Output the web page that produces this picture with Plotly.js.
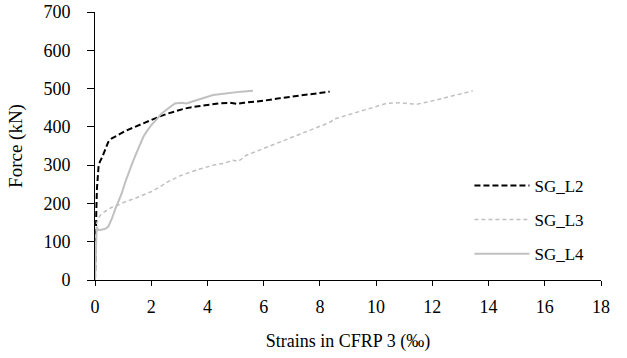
<!DOCTYPE html>
<html>
<head>
<meta charset="utf-8">
<script src="https://cdn.plot.ly/plotly-3.0.1.min.js"></script>
<style>html,body{margin:0;padding:0;background:#fff;}</style>
</head>
<body>
<div id="chart" style="width:627px;height:358px;"></div>
<script>
// SG_L2 (black dashed)
const l2X = [0, 0.01, 0.02, 0.03, 0.05, 0.07, 0.10, 0.13, 0.18, 0.25, 0.36, 0.47, 0.6, 0.83, 1.1, 1.42, 1.7, 2.01, 2.3, 2.6, 2.9, 3.2, 3.6, 4.0, 4.4, 4.8, 5.03, 5.3, 5.98, 6.5, 7.16, 7.7, 8.0, 8.35];
const l2Y = [0, 60, 120, 150, 190, 240, 280, 300, 310, 320, 340, 360, 370, 379, 390, 400, 409, 418, 427, 435, 442, 448, 453, 457, 461, 463, 460, 463, 468, 474, 480, 485, 488, 492];
// SG_L3 (light grey dashed)
const l3X = [0, 0.01, 0.03, 0.06, 0.15, 0.24, 0.4, 0.6, 0.83, 1.1, 1.42, 1.7, 2.01, 2.3, 2.6, 3.02, 3.6, 4.2, 4.6, 4.91, 5.1, 5.39, 6.0, 6.57, 7.2, 7.76, 8.3, 8.58, 9.18, 9.8, 10.36, 10.83, 11.1, 11.43, 11.9, 12.3, 12.73, 13.1, 13.44];
const l3Y = [0, 50, 110, 148, 165, 174, 182, 190, 196, 205, 213, 222, 231, 243, 257, 272, 287, 300, 305, 313, 310, 326, 344, 361, 378, 396, 410, 422, 435, 450, 461, 463, 462, 459, 466, 473, 480, 487, 494];
// SG_L4 (light grey solid)
const l4X = [0, 0.01, 0.03, 0.06, 0.12, 0.24, 0.35, 0.47, 0.6, 0.71, 0.83, 0.95, 1.06, 1.18, 1.3, 1.42, 1.57, 1.72, 1.86, 2.01, 2.2, 2.37, 2.6, 2.84, 3.08, 3.26, 3.55, 3.9, 4.2, 4.5, 4.8, 5.2, 5.62];
const l4Y = [0, 40, 100, 139, 130, 131, 133, 139, 160, 183, 205, 226, 252, 279, 300, 322, 350, 374, 390, 405, 420, 435, 448, 461, 463, 461, 468, 476, 483, 486, 489, 492, 494];

const seriesNames = ["SG_L2", "SG_L3", "SG_L4"];
const xTickVals = [0, 2, 4, 6, 8, 10, 12, 14, 16, 18];
const yTickVals = [0, 100, 200, 300, 400, 500, 600, 700];

const FONT = "'Liberation Serif', 'Times New Roman', serif";

const traces = [
  {x: l2X, y: l2Y, name: seriesNames[0], legendgroup: "a", mode: "lines",
   line: {color: "#000000", width: 2, dash: "6px,3px"}},
  {x: l3X, y: l3Y, name: seriesNames[1], legendgroup: "b", mode: "lines",
   line: {color: "#c0c0c0", width: 1.5, dash: "4px,3px"}},
  {x: l4X, y: l4Y, name: seriesNames[2], legendgroup: "c", mode: "lines",
   line: {color: "#c0c0c0", width: 2}}
];

const layout = {
  width: 627, height: 358,
  margin: {l: 95, r: 26, t: 12, b: 78},
  paper_bgcolor: "#ffffff", plot_bgcolor: "#ffffff",
  font: {family: FONT, size: 17, color: "#000"},
  showlegend: true,
  legend: {x: 0.74, y: 0.224, xanchor: "left", yanchor: "middle",
           font: {family: FONT, size: 17, color: "#000"},
           tracegroupgap: 9, bgcolor: "rgba(0,0,0,0)", itemwidth: 55},
  xaxis: {
    range: [0, 18], tickvals: xTickVals, ticktext: xTickVals.map(String),
    showline: true, linecolor: "#000", linewidth: 1,
    ticks: "outside", ticklen: 5, tickcolor: "#000",
    showgrid: false, zeroline: false, ticklabelstandoff: 5,
    tickfont: {family: FONT, size: 18},
    title: {text: "Strains in CFRP 3 (‰)", font: {family: FONT, size: 18}, standoff: 18}
  },
  yaxis: {
    range: [0, 700], tickvals: yTickVals, ticktext: yTickVals.map(String),
    showline: true, linecolor: "#000", linewidth: 1,
    ticks: "outside", ticklen: 7, tickcolor: "#000",
    showgrid: false, zeroline: false, ticklabelstandoff: 13,
    tickfont: {family: FONT, size: 18},
    title: {text: "Force (kN)", font: {family: FONT, size: 19}, standoff: 15}
  }
};

Plotly.newPlot("chart", traces, layout, {displayModeBar: false, staticPlot: true});
</script>
</body>
</html>
